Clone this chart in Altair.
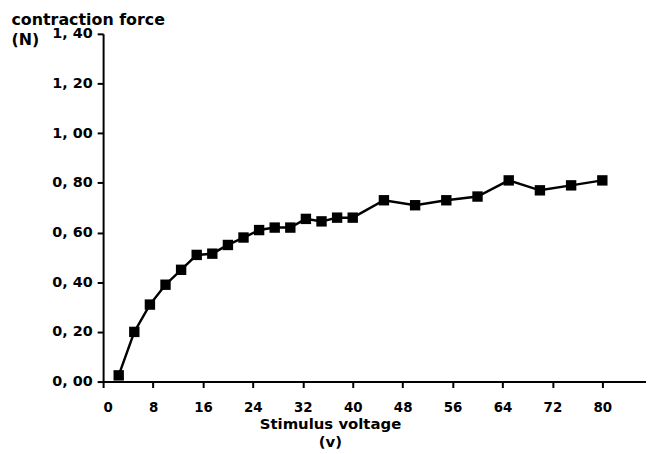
import altair as alt
import pandas as pd

voltage = [2.5, 5, 7.5, 10, 12.5, 15, 17.5, 20, 22.5, 25, 27.5, 30, 32.5, 35, 37.5, 40,
           45, 50, 55, 60, 65, 70, 75, 80]
force = [0.025, 0.20, 0.31, 0.39, 0.45, 0.51, 0.515, 0.55, 0.58, 0.61, 0.62, 0.62, 0.655, 0.645, 0.66, 0.66,
         0.73, 0.71, 0.73, 0.745, 0.81, 0.77, 0.79, 0.81]
x_ticks = [0, 8, 16, 24, 32, 40, 48, 56, 64, 72, 80]
y_ticks = [0, 0.2, 0.4, 0.6, 0.8, 1.0, 1.2, 1.4]

df = pd.DataFrame({"v": voltage, "f": force})

FONT = "DejaVu Sans"

x = alt.X("v:Q", scale=alt.Scale(domain=[0, 87], nice=False, zero=False),
          axis=alt.Axis(values=x_ticks, title=["Stimulus voltage", "(v)"],
                        grid=False, domainColor="black", domainWidth=2,
                        tickColor="black", tickWidth=2, tickSize=6,
                        labelFont=FONT, labelFontSize=13.5, labelFontWeight="bold",
                        labelColor="black", labelPadding=13,
                        titleFont=FONT, titleFontSize=15, titleFontWeight="bold",
                        titleColor="black", titleX=229, titleY=47, titleAlign="center",
                        titleLineHeight=19, titleBaseline="alphabetic"))
y = alt.Y("f:Q", scale=alt.Scale(domain=[0, 1.4], nice=False),
          axis=alt.Axis(values=y_ticks, title=["contraction force", "(N)"],
                        labelExpr="replace(format(datum.value, '.2f'), '.', ', ')",
                        grid=False, domainColor="black", domainWidth=2,
                        tickColor="black", tickWidth=2, tickSize=6,
                        labelFont=FONT, labelFontSize=14.5, labelFontWeight="bold",
                        labelColor="black", labelPadding=5,
                        titleFont=FONT, titleFontSize=16, titleFontWeight="bold",
                        titleColor="black", titleAngle=0, titleAlign="left",
                        titleBaseline="alphabetic", titleX=-93, titleY=-9,
                        titleLineHeight=20))

base = alt.Chart(df)
line = base.mark_line(color="black", strokeWidth=2.5).encode(x=x, y=y)
pts = base.mark_point(shape="square", filled=True, color="black", size=110, opacity=1).encode(x=x, y=y)

chart = (line + pts).properties(
    width=548, height=351,
    padding={"left": 96, "top": 24, "right": 0, "bottom": 70},
    autosize=alt.AutoSizeParams(type="none"),
    background="white",
).configure_view(stroke=None)

chart.save("out.html", embed_options={"renderer": "svg", "actions": False})
